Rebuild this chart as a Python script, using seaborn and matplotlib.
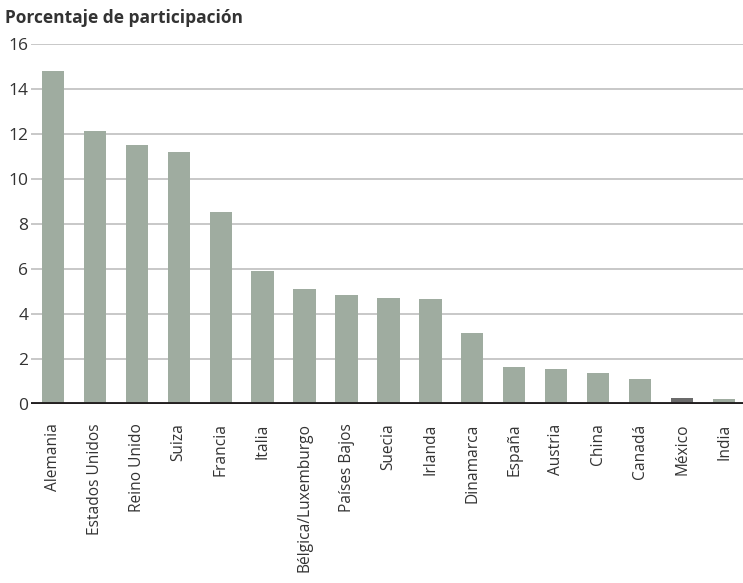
import matplotlib
matplotlib.use("Agg")
import matplotlib.pyplot as plt
import seaborn as sns
import pandas as pd

paises = ["Alemania", "Estados Unidos", "Reino Unido", "Suiza", "Francia", "Italia",
          "Bélgica/Luxemburgo", "Países Bajos", "Suecia", "Irlanda", "Dinamarca",
          "España", "Austria", "China", "Canadá", "México", "India"]
valores = [14.8, 12.13, 11.5, 11.2, 8.53, 5.91, 5.11, 4.84, 4.71, 4.67, 3.16,
           1.64, 1.56, 1.38, 1.11, 0.27, 0.22]
yticks = [0, 2, 4, 6, 8, 10, 12, 14, 16]
titulo = "Porcentaje de participación"

sns.set_theme(style="white")
plt.rcParams["font.family"] = ["Open Sans", "DejaVu Sans"]

color_bar = "#9facA0"
color_mex = "#6b6b6b"
colores = {p: (color_mex if p == "México" else color_bar) for p in paises}

df = pd.DataFrame({"pais": paises, "valor": valores})

fig = plt.figure(figsize=(7.43, 5.83), dpi=100)
ax = fig.add_axes([31/743, 179/583, 712/743, (404-44)/583])

sns.barplot(data=df, x="pais", y="valor", hue="pais", palette=colores,
            legend=False, width=0.53, saturation=1, linewidth=0, ax=ax, zorder=3)

ax.set_ylim(0, 16)
ax.set_xlim(-0.52, 16.45)
ax.set_yticks(yticks)
ax.set_yticklabels([str(t) for t in yticks])
for t in yticks[1:]:
    ax.axhline(t, color="#c4c4c4", lw=1.3, zorder=1)
ax.axhline(0, color="#231f20", lw=2.8, zorder=4)

for s in ax.spines.values():
    s.set_visible(False)
ax.set_xlabel("")
ax.set_ylabel("")
ax.tick_params(axis="y", length=0, pad=2, labelsize=12.5, labelcolor="#333333")
ax.tick_params(axis="x", length=0, pad=14, labelsize=11.2, labelcolor="#333333")
plt.setp(ax.get_xticklabels(), rotation=90, ha="center", va="top")

fig.text(5/743, 1 - 18/583, titulo, fontsize=12.5, fontweight="bold",
         color="#333333", ha="left", va="center")

fig.savefig("out.png", dpi=100)
